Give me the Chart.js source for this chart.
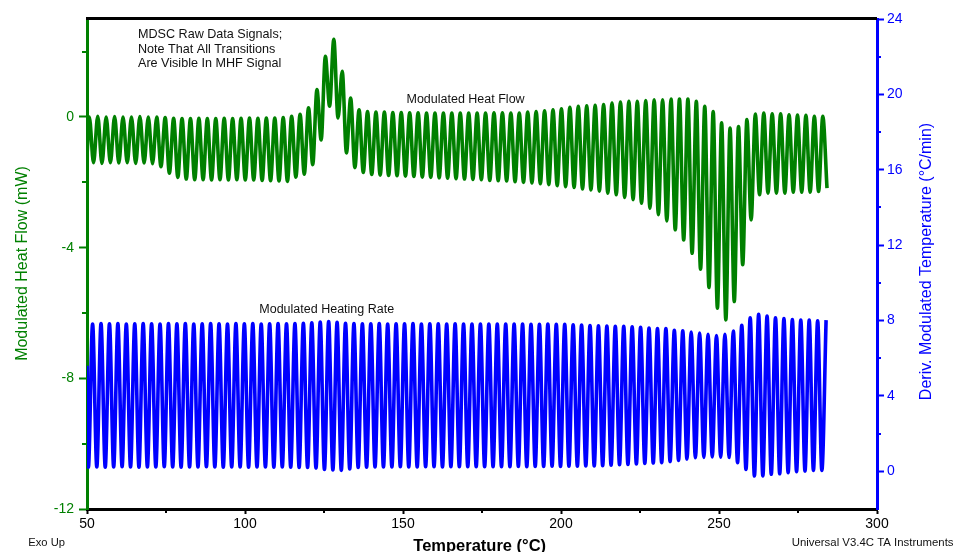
<!DOCTYPE html>
<html>
<head>
<meta charset="utf-8">
<script src="https://cdn.jsdelivr.net/npm/chart.js@4.4.0/dist/chart.umd.min.js"></script>
<style>
  html, body { margin: 0; padding: 0; background: #fff; }
</style>
</head>
<body>
<canvas id="chart" width="959" height="552"></canvas>
<script>
// modulation: one cycle every ~2.67 °C, values read cycle by cycle off the plot
const cycleStart = 50.73;   // first heat-flow peak (°C)
const cyclePeriod = 2.668;  // °C per modulation cycle
const rateLag = 1.04;       // heating-rate peaks sit a bit later

// Modulated Heat Flow (mW), left axis
const heatFlowStart = -1.2;
const heatFlowPeaks = [
  0.0, 0.02, 0.0, 0.01, 0.0, 0.0, 0.01, 0.0, 0.0,
  -0.02, -0.04, -0.05, -0.05, -0.04, -0.05, -0.05, -0.04, -0.05, -0.04, -0.03, -0.04, -0.03, -0.03,
  -0.02, 0.02, 0.08, 0.28, 0.84, 1.86, 2.38, 1.4, 0.58, 0.22, 0.17, 0.15,
  0.15, 0.14, 0.14, 0.13, 0.13, 0.12, 0.12, 0.12, 0.12, 0.12, 0.12, 0.12, 0.12, 0.13, 0.13, 0.12,
  0.12, 0.15, 0.17, 0.19, 0.22, 0.25, 0.3, 0.33, 0.34, 0.36,
  0.38, 0.43, 0.46, 0.48, 0.48, 0.5, 0.53, 0.53, 0.55, 0.55, 0.55, 0.48, 0.33, 0.17,
  -0.18, -0.34, -0.29, -0.08, 0.09, 0.12, 0.1, 0.1, 0.07, 0.06, 0.05, 0.02, 0.02
];
const heatFlowTroughs = [
  -1.4, -1.42, -1.4, -1.41, -1.4, -1.42, -1.41, -1.43,
  -1.52, -1.72, -1.85,
  -1.9, -1.92, -1.92, -1.93, -1.92, -1.93, -1.92, -1.93, -1.93, -1.94, -1.95, -1.96,
  -1.97, -1.84, -1.75, -1.46, -0.7, 0.33, -0.03, -1.1, -1.55, -1.7, -1.76, -1.78,
  -1.79, -1.8, -1.81, -1.82, -1.84, -1.85, -1.86, -1.87, -1.89, -1.9, -1.91, -1.92, -1.94,
  -1.95, -1.96, -1.98, -2.0, -2.02, -2.04, -2.07, -2.1, -2.13, -2.16, -2.2, -2.23, -2.27,
  -2.33, -2.38, -2.46, -2.53, -2.64, -2.79, -2.99, -3.18, -3.45, -3.76, -4.17, -4.66, -5.22,
  -5.85, -6.21, -5.65, -4.52, -3.15, -2.38, -2.33, -2.33, -2.33, -2.3, -2.3, -2.3, -2.28, -2.18
];

// Modulated Heating Rate (°C/min), right axis
const rateStart = 5.6;
const rateTroughs = [
  0.22,
  0.23, 0.22, 0.23, 0.24, 0.23, 0.22, 0.23, 0.23, 0.24, 0.23, 0.22, 0.23, 0.23,
  0.24, 0.23, 0.22, 0.23, 0.23, 0.22, 0.23, 0.23, 0.22, 0.23, 0.22, 0.21, 0.2,
  0.17, 0.1, 0.07, 0.05, 0.12, 0.2,
  0.22, 0.23, 0.23, 0.23, 0.24, 0.23, 0.23, 0.24, 0.24, 0.23, 0.24, 0.24, 0.24, 0.25,
  0.24, 0.25, 0.25, 0.25, 0.26, 0.25, 0.26, 0.26, 0.27, 0.26, 0.27, 0.27, 0.28,
  0.28, 0.3, 0.32, 0.35, 0.37, 0.39, 0.42, 0.44, 0.46, 0.52, 0.58, 0.65, 0.72, 0.74,
  0.76, 0.75, 0.73, 0.46, 0.1, -0.25, -0.25, -0.16, -0.13, -0.07, -0.02, 0.02, 0.05, 0.05
];
const ratePeaks = [
  7.82, 7.84, 7.83, 7.84, 7.82, 7.83, 7.84, 7.83, 7.82, 7.84, 7.83, 7.84, 7.82,
  7.83, 7.84, 7.83, 7.82, 7.84, 7.83, 7.84, 7.82, 7.83, 7.84, 7.83, 7.84, 7.85,
  7.88, 7.92, 7.95, 7.9, 7.86,
  7.84, 7.83, 7.83, 7.84, 7.82, 7.83, 7.83, 7.84, 7.82, 7.83, 7.83, 7.82, 7.83,
  7.82, 7.82, 7.82, 7.81, 7.82, 7.81, 7.81, 7.81, 7.8, 7.8, 7.81, 7.8,
  7.8, 7.78, 7.76, 7.74, 7.72, 7.71, 7.7, 7.69, 7.67, 7.64, 7.6,
  7.57, 7.57, 7.48, 7.45, 7.39, 7.33, 7.27, 7.21, 7.27, 7.44, 7.75,
  8.15, 8.33, 8.24, 8.15, 8.1, 8.05, 8.02, 8.02, 7.99, 8.02
];

const xTicks = [50, 100, 150, 200, 250, 300];
const xMinor = [75, 125, 175, 225, 275];
const leftTicks = [-12, -8, -4, 0];
const leftMinor = [-10, -6, -2, 2];
const rightTicks = [0, 4, 8, 12, 16, 20, 24];
const rightMinor = [2, 6, 10, 14, 18, 22];

const GREEN = '#008000';
const BLUE = '#0000ff';
const FONT = "'Liberation Sans', Arial, sans-serif";

// peak, then trough half a cycle later
const heatFlowPoints = [{ x: 50, y: heatFlowStart }];
heatFlowPeaks.forEach((v, i) => {
  const t = cycleStart + i * cyclePeriod;
  heatFlowPoints.push({ x: t, y: v });
  heatFlowPoints.push({ x: t + cyclePeriod / 2, y: heatFlowTroughs[i] });
});

// trough, then peak
const ratePoints = [{ x: 50, y: rateStart }];
ratePeaks.forEach((v, i) => {
  const t = cycleStart + rateLag + i * cyclePeriod;
  ratePoints.push({ x: t - cyclePeriod / 2, y: rateTroughs[i] });
  ratePoints.push({ x: t, y: v });
});

function setTicks(list) {
  return (scale) => { scale.ticks = list.map(v => ({ value: v })); };
}

// labels, titles, minor ticks, top frame line
const decorations = {
  id: 'decorations',
  afterDraw(chart) {
    const ctx = chart.ctx;
    const area = chart.chartArea;
    const sx = chart.scales.x, sy = chart.scales.y, sy1 = chart.scales.y1;
    ctx.save();

    ctx.lineWidth = 2;
    ctx.strokeStyle = GREEN;
    leftMinor.forEach(v => {
      const p = Math.round(sy.getPixelForValue(v));
      ctx.beginPath(); ctx.moveTo(area.left - 5, p); ctx.lineTo(area.left, p); ctx.stroke();
    });
    ctx.strokeStyle = BLUE;
    rightMinor.forEach(v => {
      const p = Math.round(sy1.getPixelForValue(v));
      ctx.beginPath(); ctx.moveTo(area.right, p); ctx.lineTo(area.right + 4, p); ctx.stroke();
    });
    ctx.strokeStyle = '#000';
    xMinor.forEach(v => {
      const p = Math.round(sx.getPixelForValue(v));
      ctx.beginPath(); ctx.moveTo(p, area.bottom); ctx.lineTo(p, area.bottom + 4); ctx.stroke();
    });

    // top frame
    ctx.lineWidth = 3;
    ctx.beginPath(); ctx.moveTo(area.left - 1, area.top - 0.5); ctx.lineTo(area.right, area.top - 0.5); ctx.stroke();

    ctx.fillStyle = '#111';
    ctx.textAlign = 'left';
    ctx.textBaseline = 'middle';
    ctx.font = '12.6px ' + FONT;
    ctx.fillText('MDSC Raw Data Signals;', 138, 35);
    ctx.fillText('Note That All Transitions', 138, 49.3);
    ctx.fillText('Are Visible In MHF Signal', 138, 63.3);
    ctx.font = '12.5px ' + FONT;
    ctx.fillText('Modulated Heat Flow', 406.5, 100);
    ctx.fillText('Modulated Heating Rate', 259.3, 310);

    ctx.font = '11.2px ' + FONT;
    ctx.fillText('Exo Up', 28.3, 542.7);
    ctx.font = '11.4px ' + FONT;
    ctx.fillText('Universal V3.4C TA Instruments', 791.7, 542.7);

    ctx.fillStyle = '#000';
    ctx.textBaseline = 'alphabetic';
    ctx.font = 'bold 16.5px ' + FONT;
    ctx.fillText('Temperature (°C)', 413.3, 550.5);

    ctx.textAlign = 'center';
    ctx.font = '16px ' + FONT;
    ctx.fillStyle = GREEN;
    ctx.save();
    ctx.translate(26.5, 263.5);
    ctx.rotate(-Math.PI / 2);
    ctx.fillText('Modulated Heat Flow (mW)', 0, 0);
    ctx.restore();

    ctx.fillStyle = BLUE;
    ctx.save();
    ctx.translate(931, 261.5);
    ctx.rotate(-Math.PI / 2);
    ctx.fillText('Deriv. Modulated Temperature (°C/min)', 0, 0);
    ctx.restore();

    ctx.restore();
  }
};

new Chart(document.getElementById('chart').getContext('2d'), {
  type: 'line',
  data: {
    datasets: [{
      label: 'Modulated Heat Flow',
      data: heatFlowPoints,
      yAxisID: 'y',
      borderColor: GREEN,
      borderWidth: 3.6,
      pointRadius: 0,
      cubicInterpolationMode: 'monotone',
      fill: false
    }, {
      label: 'Modulated Heating Rate',
      data: ratePoints,
      yAxisID: 'y1',
      borderColor: BLUE,
      borderWidth: 3.6,
      pointRadius: 0,
      cubicInterpolationMode: 'monotone',
      fill: false
    }]
  },
  options: {
    responsive: false,
    animation: false,
    parsing: false,
    layout: { padding: { top: 19, left: 0, right: 0, bottom: 0 } },
    plugins: {
      legend: { display: false },
      tooltip: { enabled: false }
    },
    scales: {
      x: {
        type: 'linear',
        position: 'bottom',
        min: 50,
        max: 300,
        afterBuildTicks: setTicks(xTicks),
        afterFit: (s) => { s.height = 43; },
        ticks: { color: '#000', font: { family: FONT, size: 14 }, padding: 2, maxRotation: 0 },
        grid: { drawOnChartArea: false, color: '#000', tickLength: 5, tickWidth: 2 },
        border: { color: '#000', width: 3 }
      },
      y: {
        type: 'linear',
        position: 'left',
        min: -12,
        max: 3,
        afterBuildTicks: setTicks(leftTicks),
        afterFit: (s) => { s.width = 87; },
        ticks: { color: GREEN, font: { family: FONT, size: 14 }, padding: 5 },
        grid: { drawOnChartArea: false, color: GREEN, tickLength: 8, tickWidth: 2 },
        border: { color: GREEN, width: 3 }
      },
      y1: {
        type: 'linear',
        position: 'right',
        min: -2,
        max: 24,
        afterBuildTicks: setTicks(rightTicks),
        afterFit: (s) => { s.width = 82; },
        ticks: { color: BLUE, font: { family: FONT, size: 14 }, padding: 3 },
        grid: { drawOnChartArea: false, color: BLUE, tickLength: 7, tickWidth: 2 },
        border: { color: BLUE, width: 3 }
      }
    }
  },
  plugins: [decorations]
});
</script>
</body>
</html>
